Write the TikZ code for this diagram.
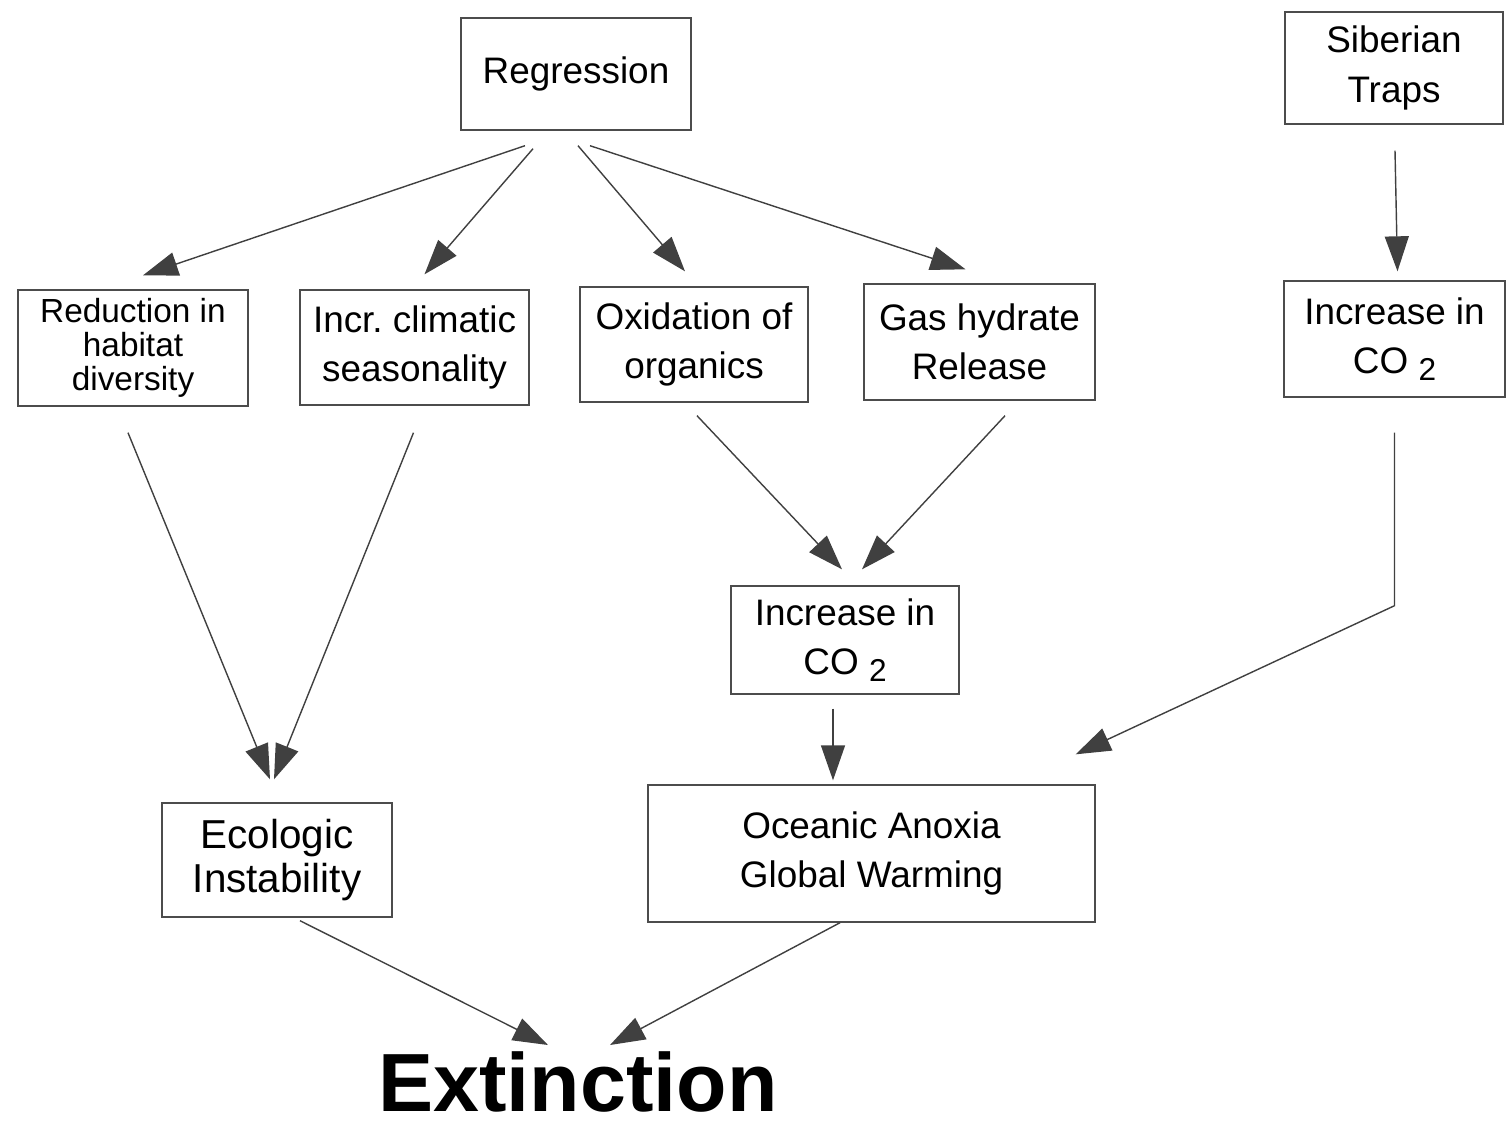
\documentclass[tikz,border=0pt]{standalone}
\usepackage{fontspec}
\setmainfont{Liberation Sans}
\usetikzlibrary{arrows.meta}
\newcommand{\cotwo}{CO \raisebox{-0.35ex}{\fontsize{18}{18}\selectfont 2}}
\begin{document}
\begin{tikzpicture}[x=0.02cm,y=-0.02cm,
  box/.style={draw=black!70, line width=0.8pt, inner sep=0pt, align=center,
    font=\fontsize{21}{28}\selectfont},
  arr/.style={draw=black!75, line width=0.8pt,
    -{Triangle[length=0.7cm,width=0.48cm]}}]
\useasboundingbox (0,0) rectangle (1508,1127);
\node[box, minimum width=4.6cm, minimum height=2.24cm] (reg) at (576,74) {Regression};
\node[box, minimum width=4.36cm, minimum height=2.24cm] (sib) at (1394,68) {Siberian\\Traps};
\node[box, minimum width=4.6cm, minimum height=2.32cm,
  font=\fontsize{19}{19.5}\selectfont] (red) at (133,348) {Reduction in\\habitat\\diversity};
\node[box, minimum width=4.58cm, minimum height=2.3cm] (inc) at (414.5,347.5) {Incr.\ climatic\\seasonality};
\node[box, minimum width=4.56cm, minimum height=2.3cm] (ox) at (694,344.5) {Oxidation of\\organics};
\node[box, minimum width=4.62cm, minimum height=2.32cm] (gas) at (979.5,342) {Gas hydrate\\Release};
\node[box, minimum width=4.42cm, minimum height=2.32cm] (co2r) at (1394.5,339) {Increase in\\\cotwo};
\node[box, minimum width=4.56cm, minimum height=2.16cm] (co2m) at (845,640) {Increase in\\\cotwo};
\node[box, minimum width=4.6cm, minimum height=2.28cm,
  font=\fontsize{23}{25}\selectfont] (eco) at (277,860) {Ecologic\\Instability};
\node[box, minimum width=8.94cm, minimum height=2.74cm] (oce) at (871.5,853.5) {Oceanic Anoxia\\Global Warming};
\node[inner sep=0pt, font=\fontsize{47}{47}\selectfont\bfseries] (ext) at (578,1082) {Extinction};

\draw[arr] ([shift={(-51,15)}]reg.south) -- ([shift={(10,-14)}]red.north);
\draw[arr] ([shift={(-43,18)}]reg.south) -- ([shift={(10,-15)}]inc.north);
\draw[arr] ([shift={(2,15)}]reg.south) -- ([shift={(-9,-15)}]ox.north);
\draw[arr] ([shift={(14,15)}]reg.south) -- ([shift={(-14,-14)}]gas.north);
\draw[arr] ([shift={(1,26)}]sib.south) -- ([shift={(3,-9)}]co2r.north);
\draw[arr] ([shift={(-5,26)}]red.south) -- ([shift={(-7,-23)}]eco.north);
\draw[arr] ([shift={(-1,27)}]inc.south) -- ([shift={(-3,-23)}]eco.north);
\draw[arr] ([shift={(3,13)}]ox.south) -- ([shift={(-3,-16)}]co2m.north);
\draw[arr] ([shift={(25.5,15)}]gas.south) -- ([shift={(17,-16)}]co2m.north);
\draw[arr] ([shift={(-12,14)}]co2m.south) -- ([shift={(-38.5,-4)}]oce.north);
\draw[arr] ([shift={(0,35)}]co2r.south) -- ([shift={(0,208)}]co2r.south) -- ([shift={(-20,-30)}]oce.north east);
\draw[arr] ([shift={(23,3)}]eco.south) -- ([shift={(-30,-37)}]ext.center);
\draw[arr] ([shift={(-31.5,0)}]oce.south) -- ([shift={(32,-37)}]ext.center);
\end{tikzpicture}
\end{document}
